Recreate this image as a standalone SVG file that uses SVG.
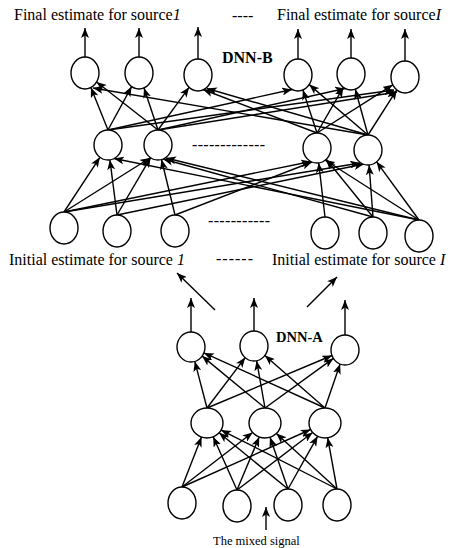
<svg xmlns="http://www.w3.org/2000/svg" width="453" height="548" viewBox="0 0 453 548">
<style>
.n{fill:#fff;stroke:#000;stroke-width:1.4}
.e{stroke:#000;stroke-width:1.4;fill:none;marker-end:url(#ah)}
.t{font-family:"Liberation Serif","Times New Roman",serif;font-size:16px;fill:#000}
.b{font-family:"Liberation Serif","Times New Roman",serif;font-weight:bold;fill:#000}
</style>
<defs>
<marker id="ah" viewBox="0 0 10 8" markerWidth="10" markerHeight="8" refX="10" refY="4" orient="auto" markerUnits="userSpaceOnUse">
<path d="M0,0 L10,4 L0,8 L2.5,4 z" fill="#000"/>
</marker>
</defs>
<rect width="453" height="548" fill="#fff"/>
<g id="connectors">
<!-- DNN-B outputs -->
<line class="e" x1="85" y1="57" x2="85" y2="28"/>
<line class="e" x1="139" y1="57" x2="139" y2="28"/>
<line class="e" x1="198" y1="59" x2="198" y2="27"/>
<line class="e" x1="298" y1="59" x2="298" y2="29"/>
<line class="e" x1="351" y1="58" x2="351" y2="29"/>
<line class="e" x1="405" y1="61" x2="405" y2="29"/>
<!-- DNN-B hidden -> output -->
<line class="e" x1="108" y1="130" x2="90.9" y2="87.5"/>
<line class="e" x1="108" y1="130" x2="131.6" y2="86.6"/>
<line class="e" x1="108" y1="130" x2="292" y2="89.5"/>
<line class="e" x1="108" y1="130" x2="394" y2="90"/>
<line class="e" x1="158" y1="130" x2="96.6" y2="82"/>
<line class="e" x1="158" y1="130" x2="144" y2="88"/>
<line class="e" x1="158" y1="130" x2="189.1" y2="87.3"/>
<line class="e" x1="158" y1="130" x2="345" y2="88.5"/>
<line class="e" x1="158" y1="130" x2="397" y2="92"/>
<line class="e" x1="317" y1="133" x2="203" y2="89.5"/>
<line class="e" x1="317" y1="133" x2="302.9" y2="90"/>
<line class="e" x1="317" y1="133" x2="343.3" y2="87.4"/>
<line class="e" x1="317" y1="133" x2="392.8" y2="84.8"/>
<line class="e" x1="368" y1="135" x2="93" y2="88"/>
<line class="e" x1="368" y1="135" x2="207" y2="88.5"/>
<line class="e" x1="368" y1="135" x2="309.2" y2="84.6"/>
<line class="e" x1="368" y1="135" x2="355.3" y2="89.3"/>
<line class="e" x1="368" y1="135" x2="396.8" y2="89.9"/>
<!-- DNN-B input -> hidden -->
<line class="e" x1="64" y1="212" x2="99.9" y2="157.3"/>
<line class="e" x1="64" y1="212" x2="150" y2="158"/>
<line class="e" x1="64" y1="212" x2="311" y2="161.5"/>
<line class="e" x1="64" y1="212" x2="360" y2="163"/>
<line class="e" x1="117" y1="215" x2="109.9" y2="159.9"/>
<line class="e" x1="117" y1="215" x2="150.6" y2="157.7"/>
<line class="e" x1="117" y1="215" x2="364" y2="164"/>
<line class="e" x1="175" y1="215" x2="161.5" y2="159.5"/>
<line class="e" x1="175" y1="215" x2="312" y2="162"/>
<line class="e" x1="325" y1="217" x2="318.7" y2="162.9"/>
<line class="e" x1="373" y1="217" x2="326.2" y2="159.3"/>
<line class="e" x1="373" y1="217" x2="369.1" y2="165"/>
<line class="e" x1="373" y1="217" x2="163" y2="159"/>
<line class="e" x1="419" y1="220" x2="325" y2="160"/>
<line class="e" x1="419" y1="220" x2="376.6" y2="161.8"/>
<line class="e" x1="419" y1="220" x2="114" y2="158.5"/>
<line class="e" x1="419" y1="220" x2="166" y2="158"/>
<!-- between networks -->
<line class="e" x1="215" y1="310" x2="177" y2="273"/>
<line class="e" x1="307" y1="307" x2="337" y2="277"/>
<!-- DNN-A outputs -->
<line class="e" x1="191" y1="332" x2="191" y2="298"/>
<line class="e" x1="254" y1="331" x2="254" y2="298"/>
<line class="e" x1="345" y1="335" x2="345" y2="300"/>
<!-- DNN-A hidden -> output -->
<line class="e" x1="207" y1="408" x2="194.8" y2="361.4"/>
<line class="e" x1="265" y1="408" x2="202.1" y2="356.1"/>
<line class="e" x1="325" y1="408" x2="203.9" y2="352.9"/>
<line class="e" x1="207" y1="408" x2="245.2" y2="357.6"/>
<line class="e" x1="265" y1="408" x2="256.6" y2="360.7"/>
<line class="e" x1="325" y1="408" x2="264.9" y2="355.5"/>
<line class="e" x1="207" y1="408" x2="332" y2="355.5"/>
<line class="e" x1="265" y1="408" x2="333.4" y2="358.4"/>
<line class="e" x1="325" y1="408" x2="340.1" y2="364.1"/>
<!-- DNN-A input -> hidden -->
<line class="e" x1="182" y1="487" x2="201.5" y2="437.1"/>
<line class="e" x1="237" y1="490" x2="213.2" y2="436.8"/>
<line class="e" x1="288" y1="489" x2="219.1" y2="432.8"/>
<line class="e" x1="337" y1="489" x2="221.1" y2="430.1"/>
<line class="e" x1="182" y1="487" x2="252.6" y2="432.5"/>
<line class="e" x1="237" y1="490" x2="259.2" y2="437"/>
<line class="e" x1="288" y1="489" x2="270" y2="437.3"/>
<line class="e" x1="337" y1="489" x2="276.4" y2="433.5"/>
<line class="e" x1="182" y1="487" x2="310.6" y2="429.5"/>
<line class="e" x1="237" y1="490" x2="312.6" y2="432.5"/>
<line class="e" x1="288" y1="489" x2="317.6" y2="436.3"/>
<line class="e" x1="337" y1="489" x2="327.7" y2="437.8"/>
<!-- mixed signal -->
<line class="e" x1="266" y1="530" x2="266" y2="507"/>
</g>
<g id="dnnB-output">
<ellipse class="n" cx="85" cy="73" rx="14" ry="16"/>
<ellipse class="n" cx="139" cy="73" rx="14" ry="16"/>
<ellipse class="n" cx="198" cy="75" rx="14" ry="16"/>
<ellipse class="n" cx="298" cy="75" rx="14" ry="16"/>
<ellipse class="n" cx="351" cy="74" rx="14" ry="16"/>
<ellipse class="n" cx="405" cy="77" rx="14" ry="16"/>
</g>
<g id="dnnB-hidden">
<ellipse class="n" cx="108" cy="145" rx="14" ry="15"/>
<ellipse class="n" cx="158" cy="145" rx="14" ry="15"/>
<ellipse class="n" cx="317" cy="148" rx="14" ry="15"/>
<ellipse class="n" cx="368" cy="150" rx="14" ry="15"/>
</g>
<g id="dnnB-input">
<ellipse class="n" cx="64" cy="228" rx="14" ry="16"/>
<ellipse class="n" cx="117" cy="231" rx="14" ry="16"/>
<ellipse class="n" cx="175" cy="231" rx="14" ry="16"/>
<ellipse class="n" cx="325" cy="233" rx="14" ry="16"/>
<ellipse class="n" cx="373" cy="233" rx="14" ry="16"/>
<ellipse class="n" cx="419" cy="236" rx="14" ry="16"/>
</g>
<g id="dnnA-output">
<ellipse class="n" cx="191" cy="347" rx="14" ry="15"/>
<ellipse class="n" cx="254" cy="346" rx="14" ry="15"/>
<ellipse class="n" cx="345" cy="350" rx="14" ry="15"/>
</g>
<g id="dnnA-hidden">
<ellipse class="n" cx="207" cy="423" rx="16" ry="15"/>
<ellipse class="n" cx="265" cy="423" rx="16" ry="15"/>
<ellipse class="n" cx="325" cy="423" rx="16" ry="15"/>
</g>
<g id="dnnA-input">
<ellipse class="n" cx="182" cy="503" rx="14" ry="16"/>
<ellipse class="n" cx="237" cy="506" rx="14" ry="16"/>
<ellipse class="n" cx="288" cy="505" rx="14" ry="16"/>
<ellipse class="n" cx="337" cy="505" rx="14" ry="16"/>
</g>
<g id="labels">
<text class="t" x="14" y="20">Final estimate for source<tspan font-style="italic">1</tspan></text>
<text class="t" x="232" y="21">----</text>
<text class="t" x="277" y="20">Final estimate for source<tspan font-style="italic">I</tspan></text>
<text class="b" x="222" y="63" font-size="16">DNN-B</text>
<text class="t" x="192" y="149.5" textLength="73" lengthAdjust="spacing">-------------</text>
<text class="t" x="208" y="225.5" textLength="62" lengthAdjust="spacing">-----------</text>
<text class="t" x="9" y="265">Initial estimate for source <tspan font-style="italic">1</tspan></text>
<text class="t" x="216" y="264" textLength="37" lengthAdjust="spacing">------</text>
<text class="t" x="272" y="265">Initial estimate for source <tspan font-style="italic">I</tspan></text>
<text class="b" x="276" y="342" font-size="14.5">DNN-A</text>
<text class="t" x="213" y="545" style="font-size:12.5px">The mixed signal</text>
</g>
</svg>
